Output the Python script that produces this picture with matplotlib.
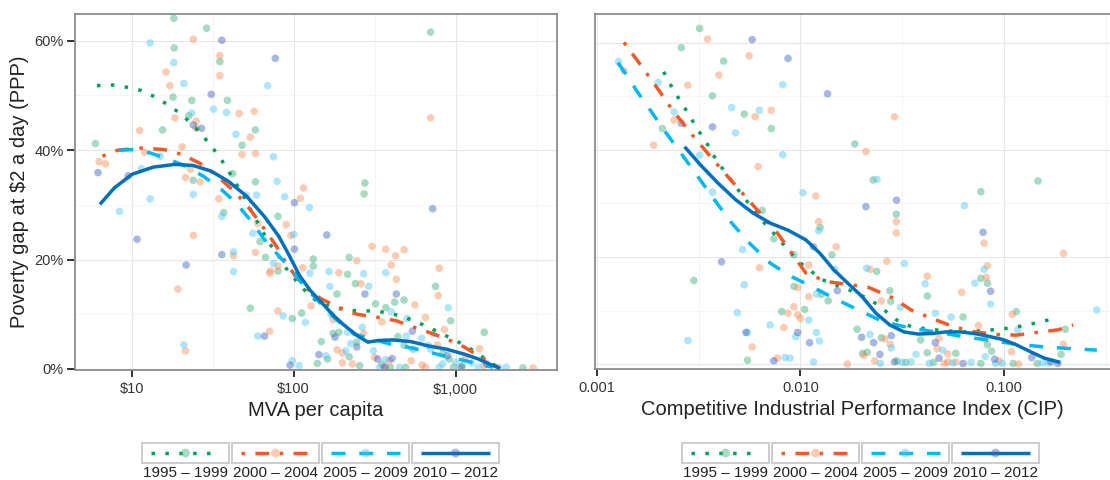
import matplotlib
matplotlib.use('Agg')
import matplotlib.pyplot as plt
import numpy as np

plt.rcParams['font.family'] = ['Liberation Sans', 'DejaVu Sans']

# ---------------- data ----------------
periods = ['1995 – 1999', '2000 – 2004', '2005 – 2009', '2010 – 2012']

# Left panel scatter: MVA per capita (US$) vs poverty gap (%)
mva_x_95 = [18.2, 29, 18.3, 35, 18, 23.5, 39, 22.5, 15.5, 58, 48, 5.97, 24, 42, 58, 37, 80, 62, 67, 80,
            132, 132, 220, 215, 275, 272, 700, 750, 930, 1500, 480, 420, 370, 240, 320, 185, 190, 112, 98, 54,
            140, 148, 162, 175, 220, 255, 245, 350, 440, 480, 545, 830, 910, 1100, 2600, 395, 490, 970]
mva_y_95 = [64.1, 62.3, 58.7, 56.2, 49.7, 49.1, 49.1, 46.3, 43.7, 43.7, 40.9, 41.2, 34.5, 35.7, 34.2, 28.6, 27.9, 23.3, 20.4, 17.9,
            20.1, 18.8, 20.4, 17.3, 34, 32, 61.6, 15.1, 8.8, 6.7, 12.6, 12.2, 11.2, 15.6, 11.9, 13.7, 6.7, 10.2, 9.2, 11.1,
            1.0, 5.0, 1.8, 6.5, 2.2, 0.6, 4.9, 0.8, 5.9, 4.3, 3.6, 2.9, 1.8, 0.6, 0.2, 0.3, 0.3, 0.3]

mva_x_00 = [24, 35, 16.3, 35, 17.2, 46, 57, 18.5, 25, 25, 11.2, 54, 20.5, 48, 58, 6.3, 6.9, 12, 23, 21.5,
            26.5, 34.5, 115, 110, 90, 60, 96, 24, 42.5, 58, 80, 72, 71, 114, 245, 190, 305, 370, 425, 480,
            400, 430, 700, 790, 780, 560, 650, 850, 1400, 350, 260, 175, 128, 80, 71, 21.5, 185, 200, 200, 230,
            270, 315, 365, 390, 530, 770, 620, 1150, 1500, 3000, 650, 19.3]
mva_y_00 = [60.3, 57.3, 54.3, 53.6, 51.8, 46.7, 47.1, 45.9, 45.3, 44, 43.6, 42.4, 40.6, 39.2, 39.4, 37.9, 37.5, 39.6, 36.5, 35,
            34.2, 31.1, 33.1, 31.2, 26.4, 26.6, 24.4, 24.4, 20.7, 21.3, 18.8, 17.9, 17.5, 18.5, 19.8, 17.6, 22.4, 21.9, 20.7, 21.8,
            19, 16.4, 45.9, 18.4, 13.4, 11.7, 9.4, 7.2, 3.7, 8.6, 15.6, 9.0, 11.5, 10.6, 6.9, 3.3, 3.5, 2.9, 1.1, 0.9,
            6.5, 2.1, 0.4, 1.5, 1.5, 4.4, 0.7, 2.2, 0.6, 0.2, 0.3, 14.6]

mva_x_05 = [13, 18.2, 21, 69, 32, 23.5, 38.5, 44, 75, 11.5, 15, 79, 24, 13, 88, 125, 59, 51, 36, 8.4,
            56, 100, 42.5, 75, 42.5, 126, 165, 370, 270, 900, 730, 500, 400, 290, 167, 170, 215, 118, 86, 60,
            98, 108, 21, 158, 210, 225, 265, 310, 370, 495, 615, 680, 700, 830, 1000, 1250, 2050, 1850, 450, 340,
            790, 1380]
mva_y_05 = [59.6, 56, 52.2, 51.8, 47.5, 46.8, 46.9, 42.9, 38.8, 36.6, 38.9, 34.3, 31.9, 31.1, 31.5, 29.5, 31.8, 31.8, 27.9, 28.8,
            24.8, 24.6, 21.4, 19.3, 17.8, 17.5, 17.8, 17.6, 17.4, 11.2, 6.4, 9.2, 10.5, 15.1, 15.1, 10.0, 6.7, 8.5, 9.7, 6.0,
            1.5, 0.6, 4.4, 2.4, 3.3, 4.6, 7.6, 3.3, 1.7, 6.0, 5.6, 4.3, 3.6, 0.9, 1.2, 1.1, 0.3, 0.3, 0.3, 0.3,
            0.3, 0.3]

mva_x_10 = [36, 77, 31, 24, 27, 6.2, 9.5, 101, 160, 10.8, 101, 36, 21.7, 430, 720, 540, 275, 180, 143, 95,
            66, 245, 330, 405, 890, 1550, 365, 1080]
mva_y_10 = [60.1, 56.8, 50.2, 44.6, 44, 35.9, 35.3, 30.4, 24.5, 23.7, 21.9, 20.9, 19, 13.7, 29.3, 6.9, 13.7, 5.8, 2.6, 0.7,
            6.0, 4.0, 1.8, 1.9, 2.4, 0.9, 0.3, 0.3]

# Left panel smoothed trends
mva_fit_x_95 = [6.11, 7.66, 9.37, 11.5, 13.8, 16.5, 19.8, 22.9, 26.5, 30.3, 34.4, 38.3, 42.8, 48.5, 55.3, 64.1, 71.0, 80.7,
                89.3, 101.9, 116.8, 136, 172.6, 246, 302, 380, 453, 555, 680, 813, 995, 1189, 1420, 1655, 1830]
mva_fit_y_95 = [51.8, 51.9, 51.5, 50.9, 49.8, 48.4, 46.8, 45.1, 43.2, 41.1, 39.0, 36.9, 34.5, 31.9, 28.6, 25.2, 22.9, 20.7,
                18.5, 16.4, 14.4, 12.6, 11.2, 10.6, 10.6, 10.3, 9.7, 8.8, 7.6, 6.5, 5.2, 4.0, 2.4, 1.2, 0.1]
mva_fit_x_00 = [6.6, 8.2, 11.7, 15.9, 20.5, 26.4, 34.0, 43.9, 53.7, 64.1, 76.7, 89.3, 104, 121, 148, 191, 246, 334, 430,
                555, 680, 877, 1130, 1383, 1698, 1876]
mva_fit_y_00 = [38.9, 40.0, 40.4, 40.1, 39.2, 37.6, 35.2, 32.2, 29.2, 26.1, 22.8, 19.5, 16.7, 14.6, 12.8, 11.2, 10.0, 9.4, 8.8,
                7.6, 6.7, 5.5, 4.0, 2.4, 0.9, 0.1]
mva_fit_x_05 = [8.4, 10.1, 13.0, 16.7, 21.5, 27.8, 35.8, 43.9, 53.7, 65.8, 80.7, 98.9, 115, 141, 182, 234, 302, 389, 501,
                646, 833, 1074, 1383, 1698]
mva_fit_y_05 = [40.0, 40.1, 39.5, 38.4, 37.1, 35.2, 32.8, 30.4, 27.3, 23.7, 20.7, 17.9, 15.2, 12.5, 9.1, 6.4, 5.5, 4.6, 4.0,
                3.3, 2.4, 1.7, 0.9, 0.3]
mva_fit_x_10 = [6.37, 7.82, 10.06, 13.6, 18.5, 23.9, 30.8, 39.6, 51.1, 65.8, 80.7, 94, 109, 127, 148, 173, 201, 246, 287,
                334, 409, 527, 680, 877, 1130, 1383, 1610, 1876]
mva_fit_y_10 = [30.1, 33.1, 35.6, 36.9, 37.4, 37.2, 36.2, 34.3, 31.6, 27.9, 24.3, 20.7, 17.0, 14.3, 12.2, 10.0, 8.2, 6.1, 4.9,
                5.2, 5.3, 5.0, 4.2, 3.6, 2.7, 1.8, 0.9, 0.1]

# Right panel scatter: CIP index vs poverty gap (%)
cip_x_95 = [0.0032, 0.0026, 0.0042, 0.0037, 0.0053, 0.0021, 0.0072, 0.0185, 0.0228, 0.0065, 0.0296, 0.0125, 0.0074, 0.0093,
            0.0143, 0.0237, 0.003, 0.0093, 0.0275, 0.042, 0.0127, 0.0137, 0.0278, 0.0081, 0.0105, 0.0055, 0.019, 0.025,
            0.0213, 0.0202, 0.0298, 0.033, 0.039, 0.042, 0.063, 0.058, 0.077, 0.083, 0.087, 0.115, 0.111, 0.146, 0.191,
            0.2, 0.147, 0.077, 0.083, 0.077, 0.045]
cip_y_95 = [62.7, 59.1, 56.6, 50.1, 46.7, 44, 44, 41.1, 34.4, 28.7, 28, 25.5, 23.4, 20.4,
            20.4, 17.3, 15.6, 14.5, 13.7, 12.7, 13, 11.8, 11.7, 9.8, 10.2, 0.7, 6.5, 4.9,
            2.2, 2.0, 0.6, 0.3, 4.5, 2.1, 8.8, 2.0, 0.1, 3.6, 2.4, 9.8, 0.1, 0.1, 1.8,
            6.5, 34.2, 16, 15.1, 32.2, 0.3]

cip_x_00 = [0.0035, 0.0056, 0.00136, 0.00398, 0.0028, 0.0072, 0.006, 0.0024, 0.029, 0.0019, 0.021, 0.0062, 0.0119, 0.0296,
            0.0123, 0.0296, 0.015, 0.0266, 0.011, 0.022, 0.0063, 0.042, 0.0097, 0.062, 0.011, 0.025, 0.0087, 0.0093,
            0.0097, 0.01, 0.0083, 0.0058, 0.0077, 0.017, 0.026, 0.0276, 0.0205, 0.0232, 0.048, 0.047, 0.053, 0.053,
            0.058, 0.075, 0.081, 0.095, 0.11, 0.109, 0.118, 0.196, 0.196, 0.08, 0.083, 0.082, 0.051]
cip_y_00 = [60.7, 57.6, 54.8, 54, 52.1, 47.4, 46.2, 45.6, 46.2, 40.9, 39.7, 36.9, 31.4, 26.6,
            26.6, 24.5, 21.9, 19.2, 18.5, 17.7, 18, 16.4, 14.3, 13.4, 12.6, 11.8, 9.5, 10.7,
            9.2, 8.5, 6.8, 3.2, 1.1, 0.0, 4.7, 3.7, 1.6, 0.6, 4.8, 2.9, 1.9, 0.4,
            0.4, 7.2, 4.6, 0.6, 9.3, 2.3, 0.0, 20.7, 3.7, 22.6, 18.4, 16.2, 0.1]

cip_x_05 = [0.00128, 0.002, 0.0082, 0.0046, 0.0063, 0.0024, 0.0048, 0.0082, 0.0032, 0.0238, 0.0037, 0.0103, 0.0123, 0.0052,
            0.0324, 0.0148, 0.0212, 0.041, 0.0053, 0.012, 0.031, 0.0049, 0.011, 0.0071, 0.0095, 0.012, 0.0055, 0.0028,
            0.0124, 0.0084, 0.0089, 0.0116, 0.022, 0.028, 0.0247, 0.0316, 0.037, 0.046, 0.05, 0.055, 0.043, 0.056,
            0.069, 0.081, 0.091, 0.117, 0.165, 0.286, 0.064, 0.08, 0.072, 0.086, 0.035, 0.098, 0.155]
cip_y_05 = [56.5, 52.6, 52.2, 47.9, 47.4, 47.1, 43.2, 39.1, 39, 34.5, 32.1, 32, 24.9, 21.4,
            18.8, 17.7, 17.9, 15, 14.8, 13.1, 10.6, 9.6, 8.2, 7.3, 5.1, 5.9, 5.9, 4.4,
            4.3, 1.2, 1.1, 0.4, 5.5, 3.0, 0.1, 0.3, 1.8, 9.5, 2.6, 8.8, 0.1, 0.2,
            0.3, 1.4, 0.1, 6.4, 0.2, 10.1, 29.6, 17.7, 15.1, 11.2, 0.4, 0.1, 0.2]

cip_x_10 = [0.0058, 0.0087, 0.0136, 0.0026, 0.0037, 0.0297, 0.021, 0.0116, 0.0041, 0.0152, 0.0097, 0.0054, 0.0111, 0.0074,
            0.020, 0.0229, 0.028, 0.0246, 0.029, 0.046, 0.048, 0.063, 0.09, 0.137, 0.184, 0.079, 0.086, 0.17]
cip_y_10 = [60.6, 57.1, 50.5, 45, 44.3, 30.6, 29.4, 21.9, 19.1, 13.7, 5.9, 5.9, 4.0, 0.6,
            5.0, 4.0, 5.3, 1.8, 0.4, 4.0, 1.1, 0.1, 0.9, 1.2, 0.1, 24.6, 13.6, 0.4]

# Right panel smoothed trends
cip_fit_x_95 = [0.00213, 0.00231, 0.00251, 0.00274, 0.00299, 0.00326, 0.00356, 0.00386, 0.00427, 0.00466, 0.00516, 0.00574,
                0.00634, 0.0071, 0.00789, 0.00879, 0.00982, 0.01107, 0.0127, 0.0149, 0.01746, 0.0202, 0.0235, 0.027,
                0.0305, 0.035, 0.0427, 0.052, 0.0635, 0.0774, 0.0944, 0.1107, 0.1297, 0.152, 0.178]
cip_fit_y_95 = [54.6, 52.1, 49.8, 47.5, 45.1, 42.8, 40.6, 38.1, 35.9, 33.9, 31.6, 29.4, 27.2, 25.2, 23.2, 21.2, 19.1, 17.6,
                15.8, 14.8, 13.8, 12.7, 11.3, 9.5, 7.9, 7.0, 6.5, 6.2, 6.0, 6.2, 6.5, 6.8, 7.3, 7.9, 8.5]
cip_fit_x_00 = [0.00136, 0.00164, 0.00197, 0.00235, 0.00286, 0.0035, 0.00427, 0.0052, 0.00634, 0.00774, 0.00908, 0.01064,
                0.0135, 0.0178, 0.0217, 0.0287, 0.035, 0.0444, 0.0564, 0.0715, 0.0944, 0.115, 0.146, 0.185, 0.219]
cip_fit_y_00 = [60.1, 55.9, 51.7, 47.5, 43.4, 39.4, 35.6, 31.9, 28.2, 24.4, 20.7, 17.0, 15.4, 14.8, 14.3, 12.3, 10.1, 8.5,
                7.0, 6.0, 5.5, 5.4, 5.9, 6.4, 7.3]
cip_fit_x_05 = [0.00127, 0.0014, 0.00158, 0.00185, 0.00217, 0.00259, 0.0031, 0.00378, 0.00461, 0.00562, 0.00714, 0.00908,
                0.0115, 0.0146, 0.0193, 0.0255, 0.035, 0.0481, 0.0635, 0.0871, 0.115, 0.158, 0.209, 0.286]
cip_fit_y_05 = [56.3, 54.0, 50.9, 47.2, 43.4, 39.4, 35.3, 30.7, 26.3, 22.6, 18.8, 16.3, 14.4, 12.3, 10.1, 7.9, 6.7, 5.9,
                5.1, 4.4, 3.7, 3.2, 2.9, 2.6]
cip_fit_x_10 = [0.0027, 0.00323, 0.00394, 0.00481, 0.00586, 0.00714, 0.00871, 0.01064, 0.01247, 0.0146, 0.0171, 0.0201,
                0.0235, 0.0275, 0.0323, 0.0378, 0.0444, 0.052, 0.061, 0.0715, 0.0837, 0.0982, 0.115, 0.135, 0.158, 0.189]
cip_fit_y_10 = [40.6, 37.2, 33.8, 30.7, 28.2, 26.3, 25.0, 23.2, 20.7, 17.6, 15.1, 12.6, 9.5, 7.3, 6.0, 5.6, 5.7, 6.0,
                6.0, 5.7, 5.2, 4.6, 3.6, 2.3, 1.1, 0.3]

y_ticks = [0, 20, 40, 60]
y_tick_labels = ['0%', '20%', '40%', '60%']
mva_ticks = [10, 100, 1000]
mva_tick_labels = ['$10', '$100', '$1,000']
cip_ticks = [0.001, 0.01, 0.1]
cip_tick_labels = ['0.001', '0.010', '0.100']

# ---------------- style ----------------
line_colors = ['#00A05A', '#F05A28', '#00B8F0', '#0070BB']
point_colors = ['#3DAE7A', '#F98D5A', '#4CC6F5', '#3A62C0']
line_styles = [(0, (1, 3)), (0, (1, 3, 4, 3)), (0, (4, 4)), '-']
LW = 2.5
PT_S = 30
PT_A = 0.45

W, H = 1110, 480
fig = plt.figure(figsize=(W / 100, H / 100), dpi=100)


def px_axes(x0, y0, x1, y1):
    return fig.add_axes([x0 / W, (H - y1) / H, (x1 - x0) / W, (y1 - y0) / H])


def style_axes(ax, yl, xl, ticks, tick_labels, minor_x, show_y):
    ax.set_xscale('log')
    ax.set_xlim(*xl)
    ax.set_ylim(*yl)
    ax.set_xticks(ticks)
    ax.set_xticklabels(tick_labels)
    ax.set_xticks(minor_x, minor=True)
    ax.set_yticks(y_ticks)
    ax.set_yticks([10, 30, 50], minor=True)
    if show_y:
        ax.set_yticklabels(y_tick_labels)
        ax.tick_params(axis='y', which='major', length=6, width=1.3, color='#222222',
                       labelsize=10.5, labelcolor='#333333', pad=2)
    else:
        ax.set_yticklabels([])
        ax.tick_params(axis='y', which='major', length=0)
    ax.tick_params(axis='x', which='major', length=5, width=1.3, color='#222222',
                   labelsize=10.5, labelcolor='#333333', pad=4)
    ax.tick_params(which='minor', length=0)
    ax.grid(True, which='major', color='#e6e6e6', lw=0.8)
    ax.grid(True, which='minor', color='#f3f3f3', lw=0.6)
    ax.set_axisbelow(True)
    for s in ax.spines.values():
        s.set_color('#8c8c8c')
        s.set_linewidth(1.3)


def draw_panel(ax, xs, ys, fxs, fys):
    for i in range(4):
        ax.scatter(xs[i], ys[i], s=PT_S, color=point_colors[i], alpha=PT_A,
                   edgecolors='none', zorder=2, clip_on=True)
    for i in range(4):
        ax.plot(fxs[i], fys[i], color=line_colors[i], lw=LW, linestyle=line_styles[i],
                dash_capstyle='butt', solid_capstyle='butt', zorder=3)


# Left panel
ax1 = px_axes(75, 14, 557, 370)
style_axes(ax1, (-0.2, 64.9), (4.47, 4217), mva_ticks, mva_tick_labels,
           [10 ** 1.5, 10 ** 2.5, 10 ** 3.5], True)
draw_panel(ax1, [mva_x_95, mva_x_00, mva_x_05, mva_x_10],
           [mva_y_95, mva_y_00, mva_y_05, mva_y_10],
           [mva_fit_x_95, mva_fit_x_00, mva_fit_x_05, mva_fit_x_10],
           [mva_fit_y_95, mva_fit_y_00, mva_fit_y_05, mva_fit_y_10])
ax1.set_xlabel('MVA per capita', fontsize=14.5, color='#222222', labelpad=3)
ax1.set_ylabel('Poverty gap at $2 a day (PPP)', fontsize=14.5, color='#222222', labelpad=4)

# Right panel
ax2 = px_axes(595, 14, 1110, 369)
style_axes(ax2, (-0.93, 65.4), (0.00098, 0.332), cip_ticks, cip_tick_labels,
           [10 ** -2.5, 10 ** -1.5, 10 ** -0.5], False)
ax2.spines['right'].set_visible(False)
draw_panel(ax2, [cip_x_95, cip_x_00, cip_x_05, cip_x_10],
           [cip_y_95, cip_y_00, cip_y_05, cip_y_10],
           [cip_fit_x_95, cip_fit_x_00, cip_fit_x_05, cip_fit_x_10],
           [cip_fit_y_95, cip_fit_y_00, cip_fit_y_05, cip_fit_y_10])
ax2.set_xlabel('Competitive Industrial Performance Index (CIP)', fontsize=14.5,
               color='#222222', labelpad=3)


# Legends (drawn below each panel)
def draw_legend(x_starts):
    for i, x0 in enumerate(x_starts):
        lax = px_axes(x0, 443, x0 + 87, 463)
        lax.set_xlim(0, 1)
        lax.set_ylim(0, 1)
        lax.set_xticks([])
        lax.set_yticks([])
        for s in lax.spines.values():
            s.set_color('#cccccc')
            s.set_linewidth(1.4)
        lax.plot([0.1, 0.9], [0.5, 0.5], color=line_colors[i], lw=LW,
                 linestyle=line_styles[i], dash_capstyle='butt', solid_capstyle='butt')
        lax.scatter([0.5], [0.5], s=PT_S + 10, color=point_colors[i], alpha=PT_A,
                    edgecolors='none', zorder=3)
        fig.text((x0 + 43.5) / W, (H - 473) / H, periods[i], ha='center', va='center',
                 fontsize=11, color='#222222')


draw_legend([142, 232, 322, 412])
draw_legend([682, 772, 862, 952])

fig.savefig('out.png', dpi=100)
